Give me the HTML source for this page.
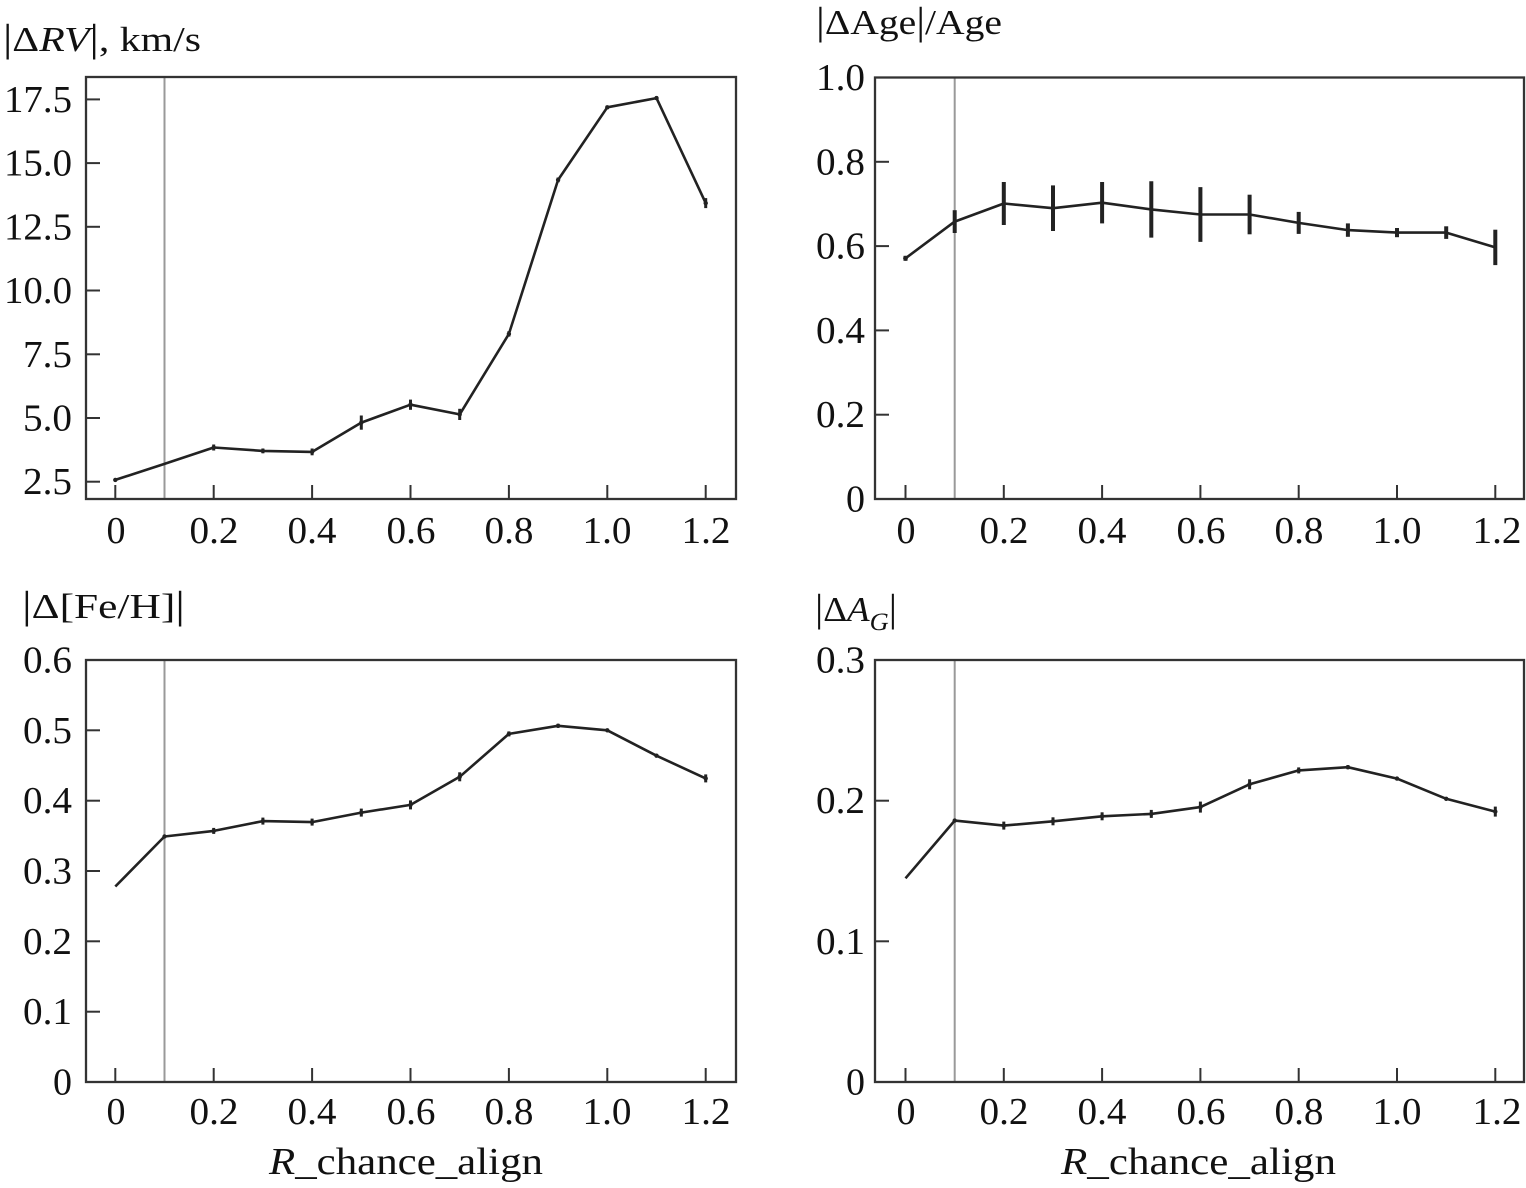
<!DOCTYPE html>
<html>
<head>
<meta charset="utf-8">
<style>
  html,body{margin:0;padding:0;background:#fff;}
  svg{display:block;}
  text{font-family:"Liberation Serif","DejaVu Serif",serif;fill:#111;}
</style>
</head>
<body>
<svg width="1526" height="1188" viewBox="0 0 1526 1188" xmlns="http://www.w3.org/2000/svg">
<rect x="0" y="0" width="1526" height="1188" fill="#fff"/>

<!-- ============ TOP LEFT ============ -->
<text x="3" y="51" font-size="35" textLength="198" lengthAdjust="spacingAndGlyphs"><tspan font-size="39">|</tspan>Δ<tspan font-style="italic">RV</tspan><tspan font-size="39">|</tspan>, km/s</text>
<line x1="164.5" y1="77" x2="164.5" y2="499" stroke="#999" stroke-width="2"/>
<g stroke="#333" stroke-width="2">
  <line x1="86" y1="481.7" x2="100" y2="481.7"/>
  <line x1="86" y1="418.0" x2="100" y2="418.0"/>
  <line x1="86" y1="354.3" x2="100" y2="354.3"/>
  <line x1="86" y1="290.5" x2="100" y2="290.5"/>
  <line x1="86" y1="226.8" x2="100" y2="226.8"/>
  <line x1="86" y1="163.1" x2="100" y2="163.1"/>
  <line x1="86" y1="99.4" x2="100" y2="99.4"/>
  <line x1="115.3" y1="499" x2="115.3" y2="485"/>
  <line x1="213.7" y1="499" x2="213.7" y2="485"/>
  <line x1="312.1" y1="499" x2="312.1" y2="485"/>
  <line x1="410.5" y1="499" x2="410.5" y2="485"/>
  <line x1="508.9" y1="499" x2="508.9" y2="485"/>
  <line x1="607.3" y1="499" x2="607.3" y2="485"/>
  <line x1="705.7" y1="499" x2="705.7" y2="485"/>
</g>
<rect x="86" y="77" width="650" height="422" fill="none" stroke="#333" stroke-width="2.3"/>
<g font-size="38" text-anchor="end">
  <text x="72" y="494.2" textLength="49" lengthAdjust="spacingAndGlyphs">2.5</text>
  <text x="72" y="430.5" textLength="49" lengthAdjust="spacingAndGlyphs">5.0</text>
  <text x="72" y="366.8" textLength="49" lengthAdjust="spacingAndGlyphs">7.5</text>
  <text x="72" y="303.0" textLength="68" lengthAdjust="spacingAndGlyphs">10.0</text>
  <text x="72" y="239.3" textLength="68" lengthAdjust="spacingAndGlyphs">12.5</text>
  <text x="72" y="175.6" textLength="68" lengthAdjust="spacingAndGlyphs">15.0</text>
  <text x="72" y="111.9" textLength="68" lengthAdjust="spacingAndGlyphs">17.5</text>
</g>
<g font-size="38" text-anchor="middle">
  <text x="116" y="543">0</text>
  <text x="214" y="543" textLength="49" lengthAdjust="spacingAndGlyphs">0.2</text>
  <text x="312" y="543" textLength="49" lengthAdjust="spacingAndGlyphs">0.4</text>
  <text x="411" y="543" textLength="49" lengthAdjust="spacingAndGlyphs">0.6</text>
  <text x="509" y="543" textLength="49" lengthAdjust="spacingAndGlyphs">0.8</text>
  <text x="607" y="543" textLength="49" lengthAdjust="spacingAndGlyphs">1.0</text>
  <text x="706" y="543" textLength="49" lengthAdjust="spacingAndGlyphs">1.2</text>
</g>
<polyline fill="none" stroke="#222" stroke-width="2.6" stroke-linejoin="round"
  points="115.3,479.9 164.5,463.9 213.7,447.5 262.9,450.9 312.1,451.9 361.3,422.6 410.5,404.7 459.7,414.4 508.9,333.9 558.1,179.9 607.3,107.3 656.5,98.1 705.7,203.1"/>
<g stroke="#222" stroke-width="3">
  <line x1="213.7" y1="444.5" x2="213.7" y2="450.5"/>
  <line x1="262.9" y1="448.5" x2="262.9" y2="453.3"/>
  <line x1="312.1" y1="448.5" x2="312.1" y2="455.3"/>
  <line x1="361.3" y1="415.5" x2="361.3" y2="429.7"/>
  <line x1="410.5" y1="399.6" x2="410.5" y2="409.8"/>
  <line x1="459.7" y1="408.8" x2="459.7" y2="420.0"/>
  <line x1="508.9" y1="331.2" x2="508.9" y2="336.6"/>
  <line x1="558.1" y1="177.5" x2="558.1" y2="182.3"/>
  <line x1="607.3" y1="105.5" x2="607.3" y2="109.1"/>
  <line x1="656.5" y1="96.3" x2="656.5" y2="99.9"/>
  <line x1="705.7" y1="198.1" x2="705.7" y2="208.1"/>
</g>
<g fill="#222">
  <circle cx="115.3" cy="479.9" r="2.2"/><circle cx="213.7" cy="447.5" r="2.2"/><circle cx="262.9" cy="450.9" r="2.2"/>
  <circle cx="312.1" cy="451.9" r="2.2"/><circle cx="361.3" cy="422.6" r="2.2"/><circle cx="410.5" cy="404.7" r="2.2"/>
  <circle cx="459.7" cy="414.4" r="2.2"/><circle cx="508.9" cy="333.9" r="2.2"/><circle cx="558.1" cy="179.9" r="2.2"/>
  <circle cx="607.3" cy="107.3" r="2.2"/><circle cx="656.5" cy="98.1" r="2.2"/><circle cx="705.7" cy="203.1" r="2.2"/>
</g>

<!-- ============ TOP RIGHT ============ -->
<text x="816" y="34" font-size="35" textLength="186" lengthAdjust="spacingAndGlyphs"><tspan font-size="39">|</tspan>ΔAge<tspan font-size="39">|</tspan>/Age</text>
<line x1="954.7" y1="77.5" x2="954.7" y2="499" stroke="#999" stroke-width="2"/>
<g stroke="#333" stroke-width="2">
  <line x1="875" y1="499" x2="889" y2="499"/>
  <line x1="875" y1="414.7" x2="889" y2="414.7"/>
  <line x1="875" y1="330.4" x2="889" y2="330.4"/>
  <line x1="875" y1="246.1" x2="889" y2="246.1"/>
  <line x1="875" y1="161.8" x2="889" y2="161.8"/>
  <line x1="875" y1="77.5" x2="889" y2="77.5"/>
  <line x1="905.5" y1="499" x2="905.5" y2="485"/>
  <line x1="1003.8" y1="499" x2="1003.8" y2="485"/>
  <line x1="1102.1" y1="499" x2="1102.1" y2="485"/>
  <line x1="1200.4" y1="499" x2="1200.4" y2="485"/>
  <line x1="1298.7" y1="499" x2="1298.7" y2="485"/>
  <line x1="1397.0" y1="499" x2="1397.0" y2="485"/>
  <line x1="1495.3" y1="499" x2="1495.3" y2="485"/>
</g>
<rect x="875" y="77.5" width="649" height="421.5" fill="none" stroke="#333" stroke-width="2.3"/>
<g font-size="38" text-anchor="end">
  <text x="865" y="511.5">0</text>
  <text x="865" y="427.2" textLength="49" lengthAdjust="spacingAndGlyphs">0.2</text>
  <text x="865" y="342.9" textLength="49" lengthAdjust="spacingAndGlyphs">0.4</text>
  <text x="865" y="258.6" textLength="49" lengthAdjust="spacingAndGlyphs">0.6</text>
  <text x="865" y="174.3" textLength="49" lengthAdjust="spacingAndGlyphs">0.8</text>
  <text x="865" y="90.0" textLength="49" lengthAdjust="spacingAndGlyphs">1.0</text>
</g>
<g font-size="38" text-anchor="middle">
  <text x="906" y="543">0</text>
  <text x="1004" y="543" textLength="49" lengthAdjust="spacingAndGlyphs">0.2</text>
  <text x="1102" y="543" textLength="49" lengthAdjust="spacingAndGlyphs">0.4</text>
  <text x="1201" y="543" textLength="49" lengthAdjust="spacingAndGlyphs">0.6</text>
  <text x="1299" y="543" textLength="49" lengthAdjust="spacingAndGlyphs">0.8</text>
  <text x="1397" y="543" textLength="49" lengthAdjust="spacingAndGlyphs">1.0</text>
  <text x="1497" y="543" textLength="49" lengthAdjust="spacingAndGlyphs">1.2</text>
</g>
<polyline fill="none" stroke="#222" stroke-width="2.6" stroke-linejoin="round"
  points="905.5,258.3 954.7,221.6 1003.8,203.5 1053.0,208.2 1102.1,202.7 1151.3,209.4 1200.4,214.5 1249.6,214.5 1298.7,222.9 1347.9,230.1 1397.0,232.6 1446.2,232.6 1495.3,247.4"/>
<g stroke="#222" stroke-width="4">
  <line x1="905.5" y1="255.8" x2="905.5" y2="260.8"/>
  <line x1="954.7" y1="210.2" x2="954.7" y2="233.0"/>
  <line x1="1003.8" y1="182.0" x2="1003.8" y2="225.0"/>
  <line x1="1053.0" y1="185.4" x2="1053.0" y2="231.0"/>
  <line x1="1102.1" y1="182.0" x2="1102.1" y2="223.4"/>
  <line x1="1151.3" y1="181.2" x2="1151.3" y2="237.6"/>
  <line x1="1200.4" y1="187.1" x2="1200.4" y2="241.9"/>
  <line x1="1249.6" y1="194.7" x2="1249.6" y2="234.3"/>
  <line x1="1298.7" y1="211.9" x2="1298.7" y2="233.9"/>
  <line x1="1347.9" y1="223.4" x2="1347.9" y2="236.8"/>
  <line x1="1397.0" y1="228.0" x2="1397.0" y2="237.2"/>
  <line x1="1446.2" y1="226.3" x2="1446.2" y2="238.9"/>
  <line x1="1495.3" y1="229.7" x2="1495.3" y2="265.1"/>
</g>
<circle cx="905.5" cy="258.3" r="2.4" fill="#222"/>

<!-- ============ BOTTOM LEFT ============ -->
<text x="22" y="618" font-size="35" textLength="163" lengthAdjust="spacingAndGlyphs"><tspan font-size="39">|</tspan>Δ[Fe/H]<tspan font-size="39">|</tspan></text>
<line x1="164.5" y1="660" x2="164.5" y2="1082" stroke="#999" stroke-width="2"/>
<g stroke="#333" stroke-width="2">
  <line x1="86" y1="1082" x2="100" y2="1082"/>
  <line x1="86" y1="1011.7" x2="100" y2="1011.7"/>
  <line x1="86" y1="941.3" x2="100" y2="941.3"/>
  <line x1="86" y1="871.0" x2="100" y2="871.0"/>
  <line x1="86" y1="800.7" x2="100" y2="800.7"/>
  <line x1="86" y1="730.3" x2="100" y2="730.3"/>
  <line x1="86" y1="660" x2="100" y2="660"/>
  <line x1="115.3" y1="1082" x2="115.3" y2="1068"/>
  <line x1="213.7" y1="1082" x2="213.7" y2="1068"/>
  <line x1="312.1" y1="1082" x2="312.1" y2="1068"/>
  <line x1="410.5" y1="1082" x2="410.5" y2="1068"/>
  <line x1="508.9" y1="1082" x2="508.9" y2="1068"/>
  <line x1="607.3" y1="1082" x2="607.3" y2="1068"/>
  <line x1="705.7" y1="1082" x2="705.7" y2="1068"/>
</g>
<rect x="86" y="660" width="650" height="422" fill="none" stroke="#333" stroke-width="2.3"/>
<g font-size="38" text-anchor="end">
  <text x="72" y="1094.5">0</text>
  <text x="72" y="1024.2" textLength="49" lengthAdjust="spacingAndGlyphs">0.1</text>
  <text x="72" y="953.8" textLength="49" lengthAdjust="spacingAndGlyphs">0.2</text>
  <text x="72" y="883.5" textLength="49" lengthAdjust="spacingAndGlyphs">0.3</text>
  <text x="72" y="813.2" textLength="49" lengthAdjust="spacingAndGlyphs">0.4</text>
  <text x="72" y="742.8" textLength="49" lengthAdjust="spacingAndGlyphs">0.5</text>
  <text x="72" y="672.5" textLength="49" lengthAdjust="spacingAndGlyphs">0.6</text>
</g>
<g font-size="38" text-anchor="middle">
  <text x="116" y="1124">0</text>
  <text x="214" y="1124" textLength="49" lengthAdjust="spacingAndGlyphs">0.2</text>
  <text x="312" y="1124" textLength="49" lengthAdjust="spacingAndGlyphs">0.4</text>
  <text x="411" y="1124" textLength="49" lengthAdjust="spacingAndGlyphs">0.6</text>
  <text x="509" y="1124" textLength="49" lengthAdjust="spacingAndGlyphs">0.8</text>
  <text x="607" y="1124" textLength="49" lengthAdjust="spacingAndGlyphs">1.0</text>
  <text x="706" y="1124" textLength="49" lengthAdjust="spacingAndGlyphs">1.2</text>
</g>
<text x="269" y="1174" font-size="38" textLength="274" lengthAdjust="spacingAndGlyphs"><tspan font-style="italic">R</tspan>_chance_align</text>
<polyline fill="none" stroke="#222" stroke-width="2.6" stroke-linejoin="round"
  points="115.3,886.5 164.5,836.5 213.7,830.9 262.9,821.1 312.1,822.1 361.3,812.6 410.5,804.9 459.7,776.8 508.9,733.9 558.1,725.8 607.3,730.3 656.5,755.7 705.7,778.4"/>
<g stroke="#222" stroke-width="3">
  <line x1="213.7" y1="827.9" x2="213.7" y2="833.9"/>
  <line x1="262.9" y1="817.6" x2="262.9" y2="824.6"/>
  <line x1="312.1" y1="818.6" x2="312.1" y2="825.6"/>
  <line x1="361.3" y1="808.6" x2="361.3" y2="816.6"/>
  <line x1="410.5" y1="800.4" x2="410.5" y2="809.4"/>
  <line x1="459.7" y1="772.3" x2="459.7" y2="781.3"/>
  <line x1="508.9" y1="731.4" x2="508.9" y2="736.4"/>
  <line x1="558.1" y1="723.8" x2="558.1" y2="727.8"/>
  <line x1="705.7" y1="774.4" x2="705.7" y2="782.4"/>
</g>
<g fill="#222">
  <circle cx="164.5" cy="836.5" r="2.2"/><circle cx="213.7" cy="830.9" r="2.2"/><circle cx="262.9" cy="821.1" r="2.2"/>
  <circle cx="312.1" cy="822.1" r="2.2"/><circle cx="361.3" cy="812.6" r="2.2"/><circle cx="410.5" cy="804.9" r="2.2"/>
  <circle cx="459.7" cy="776.8" r="2.2"/><circle cx="508.9" cy="733.9" r="2.2"/><circle cx="558.1" cy="725.8" r="2.2"/>
  <circle cx="607.3" cy="730.3" r="2.2"/><circle cx="656.5" cy="755.7" r="2.2"/><circle cx="705.7" cy="778.4" r="2.2"/>
</g>

<!-- ============ BOTTOM RIGHT ============ -->
<text x="815" y="621" font-size="35" textLength="82" lengthAdjust="spacingAndGlyphs"><tspan font-size="39">|</tspan>Δ<tspan font-style="italic">A</tspan><tspan font-style="italic" font-size="25" dy="9">G</tspan><tspan font-size="39" dy="-9">|</tspan></text>
<line x1="954.7" y1="660" x2="954.7" y2="1082" stroke="#999" stroke-width="2"/>
<g stroke="#333" stroke-width="2">
  <line x1="875" y1="1082" x2="889" y2="1082"/>
  <line x1="875" y1="941.3" x2="889" y2="941.3"/>
  <line x1="875" y1="800.7" x2="889" y2="800.7"/>
  <line x1="875" y1="660" x2="889" y2="660"/>
  <line x1="905.5" y1="1082" x2="905.5" y2="1068"/>
  <line x1="1003.8" y1="1082" x2="1003.8" y2="1068"/>
  <line x1="1102.1" y1="1082" x2="1102.1" y2="1068"/>
  <line x1="1200.4" y1="1082" x2="1200.4" y2="1068"/>
  <line x1="1298.7" y1="1082" x2="1298.7" y2="1068"/>
  <line x1="1397.0" y1="1082" x2="1397.0" y2="1068"/>
  <line x1="1495.3" y1="1082" x2="1495.3" y2="1068"/>
</g>
<rect x="875" y="660" width="649" height="422" fill="none" stroke="#333" stroke-width="2.3"/>
<g font-size="38" text-anchor="end">
  <text x="865" y="1094.5">0</text>
  <text x="865" y="953.8" textLength="49" lengthAdjust="spacingAndGlyphs">0.1</text>
  <text x="865" y="813.2" textLength="49" lengthAdjust="spacingAndGlyphs">0.2</text>
  <text x="865" y="672.5" textLength="49" lengthAdjust="spacingAndGlyphs">0.3</text>
</g>
<g font-size="38" text-anchor="middle">
  <text x="906" y="1124">0</text>
  <text x="1004" y="1124" textLength="49" lengthAdjust="spacingAndGlyphs">0.2</text>
  <text x="1102" y="1124" textLength="49" lengthAdjust="spacingAndGlyphs">0.4</text>
  <text x="1201" y="1124" textLength="49" lengthAdjust="spacingAndGlyphs">0.6</text>
  <text x="1299" y="1124" textLength="49" lengthAdjust="spacingAndGlyphs">0.8</text>
  <text x="1397" y="1124" textLength="49" lengthAdjust="spacingAndGlyphs">1.0</text>
  <text x="1497" y="1124" textLength="49" lengthAdjust="spacingAndGlyphs">1.2</text>
</g>
<text x="1061" y="1174" font-size="38" textLength="275" lengthAdjust="spacingAndGlyphs"><tspan font-style="italic">R</tspan>_chance_align</text>
<polyline fill="none" stroke="#222" stroke-width="2.6" stroke-linejoin="round"
  points="905.5,878.3 954.7,820.6 1003.8,825.6 1053.0,821.3 1102.1,816.3 1151.3,813.9 1200.4,807.1 1249.6,784.3 1298.7,770.4 1347.9,767.2 1397.0,778.6 1446.2,798.8 1495.3,811.6"/>
<g stroke="#222" stroke-width="3">
  <line x1="1003.8" y1="821.6" x2="1003.8" y2="829.6"/>
  <line x1="1053.0" y1="817.3" x2="1053.0" y2="825.3"/>
  <line x1="1102.1" y1="812.3" x2="1102.1" y2="820.3"/>
  <line x1="1151.3" y1="809.9" x2="1151.3" y2="817.9"/>
  <line x1="1200.4" y1="801.6" x2="1200.4" y2="812.6"/>
  <line x1="1249.6" y1="779.3" x2="1249.6" y2="789.3"/>
  <line x1="1298.7" y1="767.4" x2="1298.7" y2="773.4"/>
  <line x1="1347.9" y1="765.2" x2="1347.9" y2="769.2"/>
  <line x1="1495.3" y1="806.6" x2="1495.3" y2="816.6"/>
</g>
<g fill="#222">
  <circle cx="954.7" cy="820.6" r="2.2"/><circle cx="1003.8" cy="825.6" r="2.2"/><circle cx="1053.0" cy="821.3" r="2.2"/>
  <circle cx="1102.1" cy="816.3" r="2.2"/><circle cx="1151.3" cy="813.9" r="2.2"/><circle cx="1200.4" cy="807.1" r="2.2"/>
  <circle cx="1249.6" cy="784.3" r="2.2"/><circle cx="1298.7" cy="770.4" r="2.2"/><circle cx="1347.9" cy="767.2" r="2.2"/>
  <circle cx="1397.0" cy="778.6" r="2.2"/><circle cx="1446.2" cy="798.8" r="2.2"/><circle cx="1495.3" cy="811.6" r="2.2"/>
</g>
</svg>
</body>
</html>
